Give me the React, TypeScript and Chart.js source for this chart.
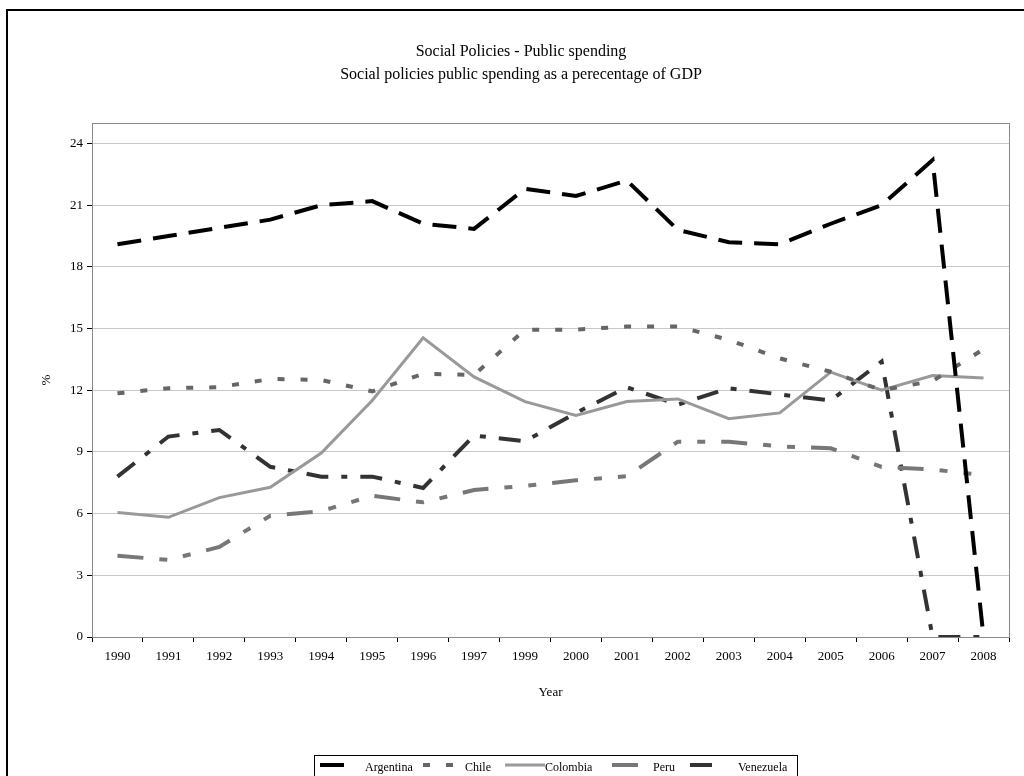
import React, { useEffect, useRef } from "react";
import { Chart, registerables } from "chart.js";

Chart.register(...registerables);

const years = ["1990", "1991", "1992", "1993", "1994", "1995", "1996", "1997", "1999", "2000", "2001", "2002", "2003", "2004", "2005", "2006", "2007", "2008"];
const argentina = [19.1, 19.5, 19.9, 20.3, 21.0, 21.2, 20.1, 19.85, 21.8, 21.45, 22.2, 19.8, 19.2, 19.1, 20.1, 21.0, 23.2, 0];
const chile = [11.85, 12.1, 12.15, 12.55, 12.5, 11.95, 12.8, 12.75, 14.95, 14.95, 15.1, 15.1, 14.45, 13.55, 12.9, 12.0, 12.45, 14.0];
const colombia = [6.05, 5.82, 6.78, 7.28, 8.95, 11.5, 14.55, 12.65, 11.45, 10.78, 11.45, 11.58, 10.62, 10.9, 12.88, 12.0, 12.72, 12.6];
const peru = [3.95, 3.75, 4.38, 5.9, 6.12, 6.87, 6.55, 7.15, 7.35, 7.62, 7.82, 9.5, 9.5, 9.27, 9.18, 8.27, 8.15, 7.87];
const venezuela = [7.8, 9.75, 10.07, 8.28, 7.8, 7.8, 7.25, 9.8, 9.52, 10.9, 12.15, 11.3, 12.1, 11.8, 11.5, 13.4, 0, 0];
const yTicksStep = 3;
const yMax = 25;

const titleLines = ["Social Policies - Public spending", "Social policies public spending as a perecentage of GDP"];
const xTitle = "Year";
const yTitle = "%";

const FONT = "'Liberation Serif', 'Times New Roman', serif";

const series = [
  { label: "Argentina", data: argentina, color: "#000000", width: 4, dash: [24, 12] },
  { label: "Chile", data: chile, color: "#666666", width: 4, dash: [7, 16] },
  { label: "Colombia", data: colombia, color: "#999999", width: 3, dash: [] as number[] },
  { label: "Peru", data: peru, color: "#777777", width: 4, dash: [26, 16, 8, 16, 8, 16] },
  { label: "Venezuela", data: venezuela, color: "#333333", width: 4, dash: [22, 13, 6, 13] },
];

// legend layout (sample start, sample end, text x)
const legendPos = [
  [320, 347, 365],
  [423, 453, 465],
  [505, 545, 545],
  [612, 638, 653],
  [690, 720, 738],
];

export default function App() {
  const ref = useRef<HTMLCanvasElement>(null);

  useEffect(() => {
    const canvas = ref.current!;
    const decor = {
      id: "decor",
      beforeDatasetsDraw(chart: any) {
        const { ctx, chartArea: a } = chart;
        ctx.save();
        ctx.strokeStyle = "#8a8a8a";
        ctx.lineWidth = 1;
        ctx.strokeRect(Math.round(a.left) + 0.5, Math.round(a.top) + 0.5, Math.round(a.right - a.left), Math.round(a.bottom - a.top));
        ctx.restore();
      },
      afterDraw(chart: any) {
        const { ctx, chartArea: a } = chart;
        ctx.save();
        // outer frame
        ctx.strokeStyle = "#000";
        ctx.lineWidth = 2;
        ctx.beginPath();
        ctx.moveTo(7, 780);
        ctx.lineTo(7, 10);
        ctx.lineTo(1030, 10);
        ctx.stroke();
        // titles
        ctx.fillStyle = "#000";
        ctx.textAlign = "center";
        ctx.textBaseline = "alphabetic";
        ctx.font = `16px ${FONT}`;
        ctx.fillText(titleLines[0], 521, 56);
        ctx.fillText(titleLines[1], 521, 79);
        ctx.font = `13px ${FONT}`;
        ctx.textBaseline = "middle";
        ctx.fillText(xTitle, (a.left + a.right) / 2, 693);
        ctx.save();
        ctx.translate(47, (a.top + a.bottom) / 2);
        ctx.rotate(-Math.PI / 2);
        ctx.fillText(yTitle, 0, 0);
        ctx.restore();
        // legend
        ctx.strokeStyle = "#000";
        ctx.lineWidth = 1;
        ctx.strokeRect(314.5, 755.5, 483, 30);
        ctx.font = `12px ${FONT}`;
        ctx.textAlign = "left";
        ctx.textBaseline = "alphabetic";
        series.forEach((s, i) => {
          const [x0, x1, tx] = legendPos[i];
          ctx.save();
          ctx.strokeStyle = s.color;
          ctx.lineWidth = s.width;
          ctx.setLineDash(s.dash);
          ctx.beginPath();
          ctx.moveTo(x0, 765);
          ctx.lineTo(x1, 765);
          ctx.stroke();
          ctx.restore();
          ctx.fillStyle = "#000";
          ctx.fillText(s.label, tx, 771);
        });
        ctx.restore();
      },
    };

    const chart = new Chart(canvas, {
      type: "line",
      data: {
        labels: years,
        datasets: series.map((s) => ({
          label: s.label,
          data: s.data,
          borderColor: s.color,
          backgroundColor: s.color,
          borderWidth: s.width,
          borderDash: s.dash,
          borderCapStyle: "butt",
          borderJoinStyle: "miter",
          pointRadius: 0,
          pointHoverRadius: 0,
          tension: 0,
          fill: false,
        })),
      },
      options: {
        responsive: false,
        animation: false,
        devicePixelRatio: 1,
        events: [],
        layout: { padding: { left: 0, top: 123, right: 15, bottom: 79 } },
        plugins: { legend: { display: false }, title: { display: false }, tooltip: { enabled: false } },
        scales: {
          x: {
            type: "category",
            offset: true,
            afterFit: (s: any) => { s.height = 60; },
            grid: { display: true, drawOnChartArea: false, drawTicks: true, tickLength: 5, tickColor: "#000", offset: true },
            border: { display: true, color: "#000", width: 1 },
            ticks: { color: "#000", font: { family: FONT, size: 13 }, padding: 7, maxRotation: 0, autoSkip: false },
          },
          y: {
            min: 0,
            max: yMax,
            afterFit: (s: any) => { s.width = 92; },
            grid: { color: "#c8c8c8", lineWidth: 1, tickColor: "#000", tickLength: 5, drawTicks: true },
            border: { display: true, color: "#000", width: 1 },
            ticks: { stepSize: yTicksStep, includeBounds: false, color: "#000", font: { family: FONT, size: 13 }, padding: 4 },
          },
        },
      },
      plugins: [decor],
    } as any);
    return () => chart.destroy();
  }, []);

  return (
    <div style={{ position: "fixed", left: 0, top: 0, width: 1024, height: 776, background: "#fff", overflow: "hidden" }}>
      <canvas ref={ref} width={1024} height={776} style={{ display: "block", width: 1024, height: 776 }} />
    </div>
  );
}
